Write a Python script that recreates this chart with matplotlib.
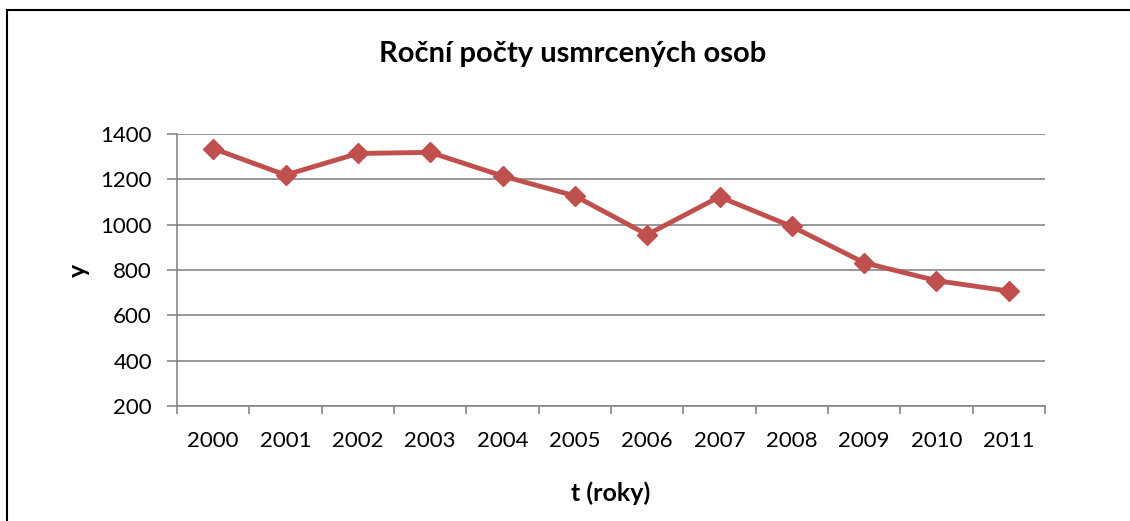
from matplotlib import pyplot as plt
from matplotlib.lines import Line2D
import numpy as np

plt.rcParams['font.family'] = ['Lato', 'DejaVu Sans']

roky = ['2000', '2001', '2002', '2003', '2004', '2005',
        '2006', '2007', '2008', '2009', '2010', '2011']
usmrceni = [1336, 1219, 1314, 1319, 1215, 1127, 956, 1123, 992, 832, 753, 707]

fig = plt.figure(figsize=(11.3, 5.21), dpi=100)
ax = fig.add_axes([177 / 1130, 1 - 406 / 521, (1045 - 177) / 1130, (406 - 134) / 521])

x = np.arange(len(roky))
ax.plot(x, usmrceni, color='#C0504D', lw=3.5, marker='D', markersize=10.5,
        markerfacecolor='#C0504D', markeredgecolor='#C0504D')

ax.set_xlim(-0.5, len(roky) - 0.5)
ax.set_ylim(200, 1400)
ax.set_yticks(range(200, 1401, 200))
ax.set_xticks(x)
ax.set_xticklabels(roky)
ax.set_xticks(np.arange(-0.5, len(roky), 1), minor=True)
ax.tick_params(axis='x', which='major', length=0, pad=18, labelsize=16)
ax.tick_params(axis='x', which='minor', length=6, width=1.2, color='#868686')
ax.tick_params(axis='y', length=7, width=1.2, color='#868686', labelsize=16, pad=11)

ax.grid(axis='y', color='#868686', lw=1.2)
ax.set_axisbelow(True)
for s in ['top', 'right']:
    ax.spines[s].set_visible(False)
for s in ['left', 'bottom']:
    ax.spines[s].set_color('#868686')
    ax.spines[s].set_linewidth(1.2)

fig.text(573 / 1130, 1 - 54 / 521, 'Roční počty usmrcených osob', ha='center', va='center',
         fontsize=21, fontweight='bold')
fig.text(78 / 1130, 1 - 270 / 521, 'y', ha='center', va='center', rotation=90,
         fontsize=18, fontweight='bold')
fig.text(611 / 1130, 1 - 493 / 521, 't (roky)', ha='center', va='center',
         fontsize=18, fontweight='bold')

# ramecek grafu
fig.add_artist(Line2D([7 / 1130, 7 / 1130], [0, 1 - 10 / 521], color='black', lw=1.5))
fig.add_artist(Line2D([7 / 1130, 1], [1 - 10 / 521, 1 - 10 / 521], color='black', lw=1.5))

fig.savefig('out.png', dpi=100)
